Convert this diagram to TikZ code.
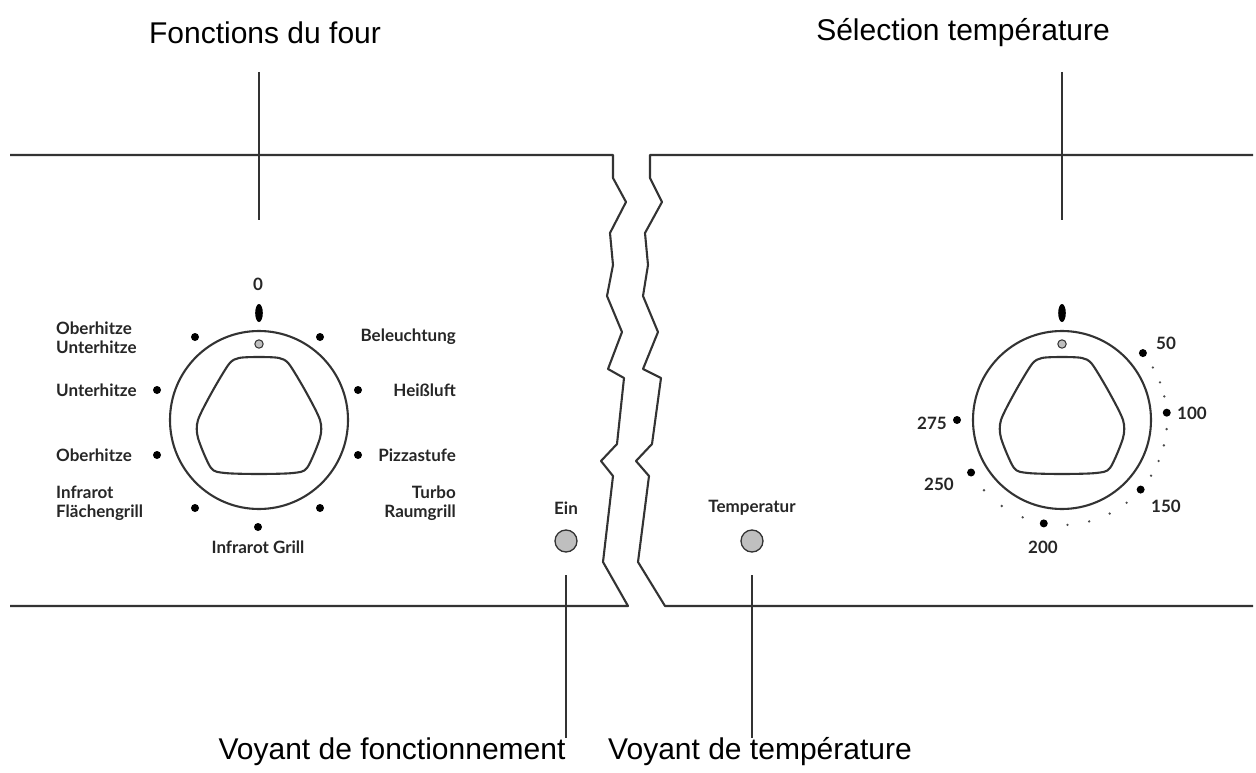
\documentclass[tikz,border=0pt]{standalone}
\usepackage{fontspec}
\usetikzlibrary{calc}
\setmainfont{Liberation Sans}
\newfontfamily\lab{Lato}
\begin{document}
\begin{tikzpicture}[x=1pt,y=-1pt,
  title/.style={font=\fontsize{30}{34}\selectfont},
  lbl/.style={font=\lab\bfseries\fontsize{17}{19}\selectfont, text=black!85, inner sep=1pt},
  ln/.style={line width=2.1pt, black!80, line join=round},
  dot/.style={circle, fill=black, inner sep=0pt, minimum size=8pt},
  sdot/.style={circle, fill=black!70, inner sep=0pt, minimum size=2.6pt},
  led/.style={circle, draw=black!80, line width=1.3pt, fill=black!25, minimum size=22pt, inner sep=0pt}]
\useasboundingbox (0,0) rectangle (1256,773);
% panel outlines
\draw[ln] (10,155) -- (613,155) -- (613,178) -- (626,202) -- (610,233) -- (613,265) -- (607,296) -- (622,332) -- (608,369) -- (624,378) -- (617,444) -- (601,461) -- (613,476) -- (603,562) -- (628,606) -- (10,606);
\draw[ln] (1253,155) -- (650,155) -- (650,178) -- (662,202) -- (645,233) -- (648,265) -- (643,296) -- (658,332) -- (643,369) -- (661,378) -- (652,444) -- (636,461) -- (649,476) -- (638,562) -- (665,606) -- (1253,606);
% titles
\node[title] (t1) at (265,33) {Fonctions du four};
\node[title] (t2) at (963,33) {Sélection température};
\coordinate (k1) at (259,420);
\coordinate (k2) at (1062,420);
\coordinate (e1) at (259,220);
\coordinate (e2) at (1062,220);
\draw[ln,line width=1.5pt] (259,72) -- (e1);
\draw[ln,line width=1.5pt] (1062,72) -- (e2);
% knobs
\foreach \k in {k1,k2}{
  \draw[ln] (\k) circle (89);
  \draw[ln,shift={(\k)}] plot[smooth cycle, tension=0.45] coordinates {(-20,-62) (0,-63) (20,-62) (30,-56) (47,-28) (61,0) (61,18) (48,48) (34,53) (0,54) (-34,53) (-48,48) (-61,18) (-61,0) (-47,-28) (-30,-56)};
  \draw[black!80, fill=black!25, line width=1pt] ($(\k)+(0,-76)$) circle (4.2);
  \fill[black] ($(\k)+(0,-107)$) ellipse (3.8 and 9);
}
% left knob labels
\node[lbl] (z) at (258,284) {0};
\foreach \p in {(195,337),(320,337),(157,390),(358,390),(157,455),(358,455),(195,508),(320,508),(258,527)}
  \node[dot] at \p {};
\node[lbl,align=left,anchor=west] (l1) at (55,338) {Oberhitze\\Unterhitze};
\node[lbl,anchor=west] (l2) at (55,390) {Unterhitze};
\node[lbl,anchor=west] (l3) at (55,455) {Oberhitze};
\node[lbl,align=left,anchor=west] (l4) at (55,503) {Infrarot\\Flächengrill};
\node[lbl,anchor=east] (r1) at (457,337) {Beleuchtung};
\node[lbl,anchor=east] (r2) at (457,390) {Heißluft};
\node[lbl,anchor=east] (r3) at (457,455) {Pizzastufe};
\node[lbl,align=right,anchor=east] (r4) at (457,503) {Turbo\\Raumgrill};
\node[lbl] (ig) at (258,547) {Infrarot Grill};
% right knob scale
\foreach \a in {30,21,13,-5,-14,-23,-32,-52,-63,-75,-87,-112,-125,-138}
  \node[sdot] at ($(k2)+(\a:105 and -105)$) {};
\foreach \a in {39.6,4,-41.5,-100,-150,180}
  \node[dot] at ($(k2)+(\a:105 and -105)$) {};
\node[lbl] (s50) at (1166,343) {50};
\node[lbl] (s100) at (1192,413) {100};
\node[lbl] (s150) at (1166,506) {150};
\node[lbl] (s200) at (1043,547) {200};
\node[lbl] (s250) at (939,484) {250};
\node[lbl] (s275) at (932,423) {275};
% LEDs
\node[lbl] (ein) at (566,508) {Ein};
\node[led] (led1) at (566,541) {};
\node[lbl] (temp) at (752,508) {Temperatur};
\node[led] (led2) at (752,541) {};
\node[title] (b1) at (392,752) {Voyant de fonctionnement};
\node[title] (b2) at (760,752) {Voyant de température};
\draw[ln,line width=1.5pt] (566,575) -- (566,738);
\draw[ln,line width=1.5pt] (752,575) -- (752,738);
\end{tikzpicture}
\end{document}
